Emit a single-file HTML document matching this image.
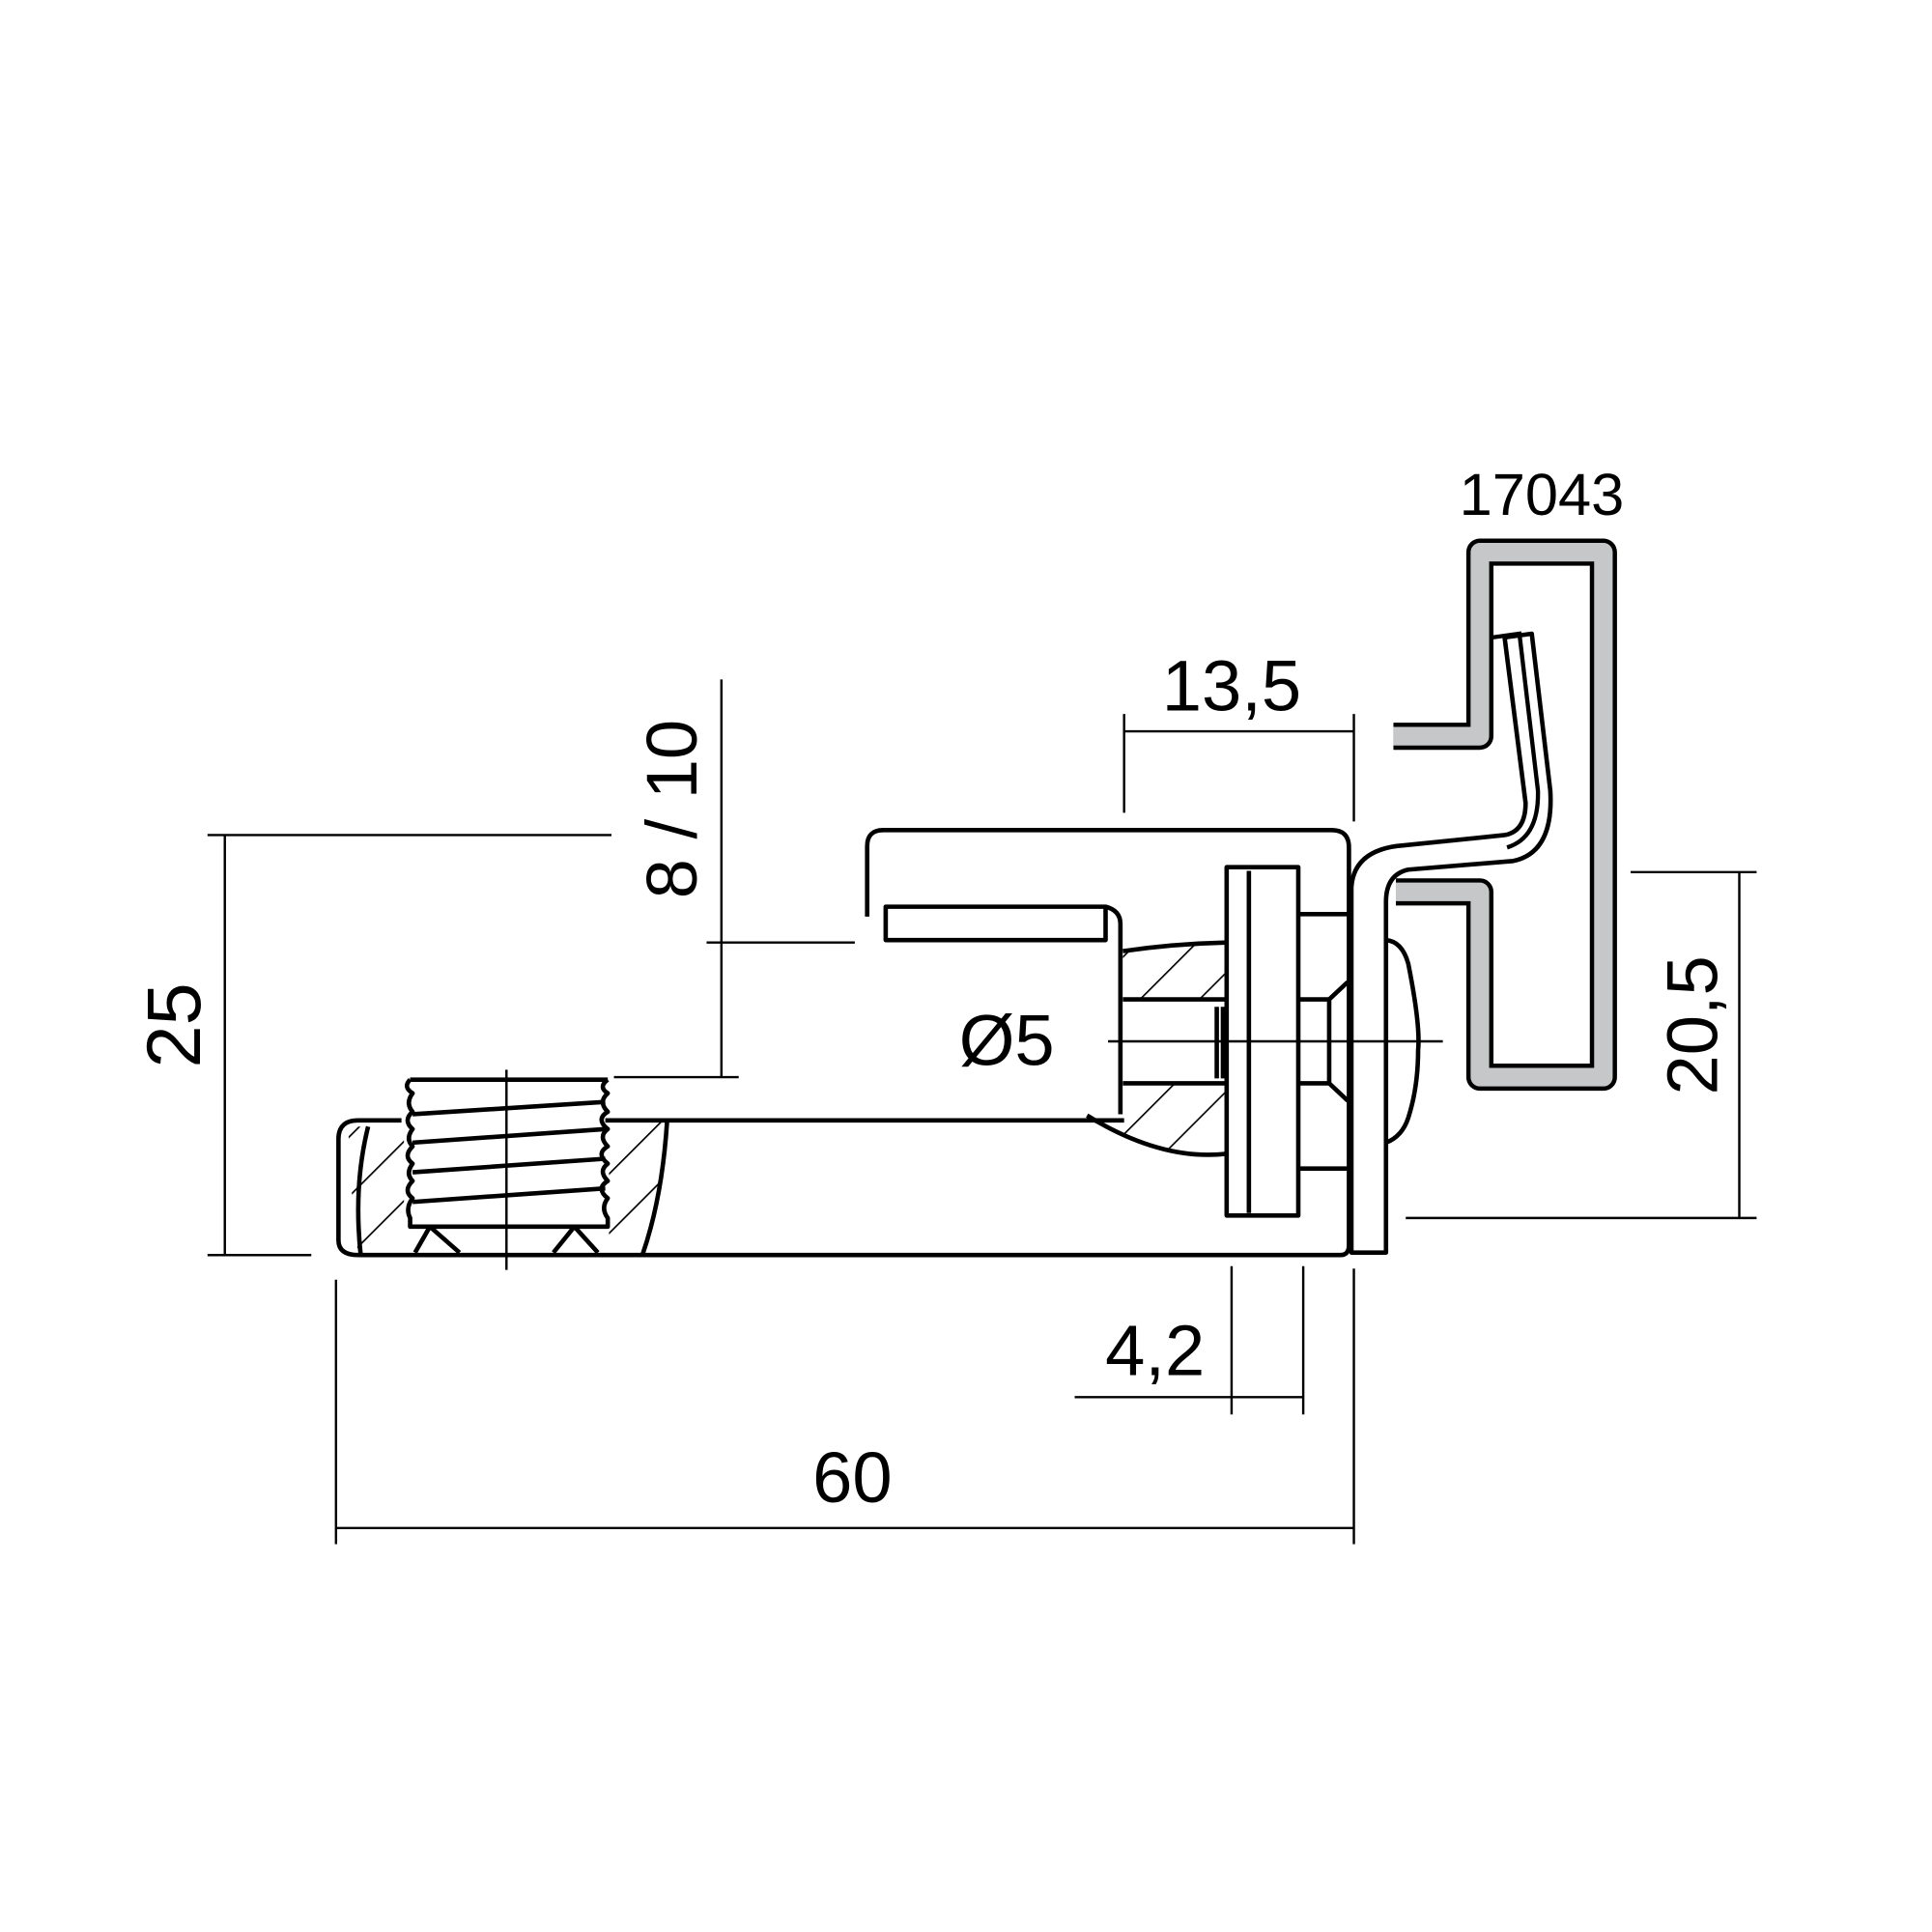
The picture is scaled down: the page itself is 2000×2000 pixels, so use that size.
<!DOCTYPE html>
<html><head><meta charset="utf-8"><style>
html,body{margin:0;padding:0;background:#fff}
svg{display:block}
text{font-family:"Liberation Sans",sans-serif;fill:#000}
</style></head><body>
<svg width="2000" height="2000" viewBox="0 0 1564 1564" xmlns="http://www.w3.org/2000/svg">
<defs>
<pattern id="h" patternUnits="userSpaceOnUse" width="34" height="34" patternTransform="rotate(45)">
<line x1="0" y1="0" x2="0" y2="34" stroke="#000" stroke-width="2.6"/>
</pattern>
</defs>
<g fill="none" stroke="#000" stroke-width="1.9">
<line x1="182" y1="676" x2="182" y2="1016"/>
<line x1="168" y1="676" x2="495" y2="676"/>
<line x1="168" y1="1016" x2="252" y2="1016"/>
<line x1="584" y1="550" x2="584" y2="872"/>
<line x1="572" y1="763" x2="692" y2="763"/>
<line x1="497" y1="872" x2="598" y2="872"/>
<line x1="910" y1="592" x2="1096" y2="592"/>
<line x1="910" y1="578" x2="910" y2="658"/>
<line x1="1096" y1="578" x2="1096" y2="665"/>
<line x1="1408" y1="706" x2="1408" y2="986"/>
<line x1="1320" y1="706" x2="1422" y2="706"/>
<line x1="1138" y1="986" x2="1422" y2="986"/>
<line x1="997" y1="1025" x2="997" y2="1145"/>
<line x1="1055" y1="1025" x2="1055" y2="1145"/>
<line x1="870" y1="1131" x2="1055" y2="1131"/>
<line x1="272" y1="1237" x2="1096" y2="1237"/>
<line x1="272" y1="1036" x2="272" y2="1250"/>
<line x1="1096" y1="1027" x2="1096" y2="1250"/>
<line x1="897" y1="843" x2="1168" y2="843"/>
<line x1="410" y1="866" x2="410" y2="1028"/>
</g>
<path d="M909 770 Q950 764 993 763 L993 809 L909 809 Z" fill="url(#h)"/>
<path d="M880 903 L909 902 L909 877 L993 877 L993 934 Q940 940 880 903 Z" fill="url(#h)"/>
<path d="M282 912 L327 912 L327 1016 L290 1016 Q283 960 282 912 Z" fill="url(#h)"/>
<path d="M493 912 L540 908 Q535 970 520 1016 L493 1016 Z" fill="url(#h)"/>
<g fill="none" stroke="#000" stroke-width="3.6" stroke-linejoin="round">
<path d="M490 907 L910 907"/>
<path d="M325 907 L290 907 Q274 907 274 922 L274 1004 Q274 1016 290 1016 L1085 1016 Q1092 1016 1092 1008"/>
<path d="M298 912 Q286 960 292 1016"/>
<path d="M540 908 Q536 970 520 1016"/>
<path d="M332 874 L492 874"/>
<path d="M332 874 Q326 880 334 885 Q328 893 334 900 Q326 907 334 914 Q328 922 334 928 Q326 936 334 942 Q328 950 334 956 Q326 964 334 970 Q328 978 332 986 L332 993 L492 993 L492 986 Q486 978 492 970 Q482 962 492 956 Q484 948 492 942 Q482 934 492 928 Q484 920 492 914 Q482 906 492 900 Q484 892 492 885 Q484 880 492 874"/>
<path d="M334 902 L490 892 M334 925 L490 914 M334 949 L490 938 M334 973 L490 962"/>
<path d="M348 993 L336 1014 M348 993 L372 1014 M465 993 L448 1014 M465 993 L484 1014"/>
<path d="M702 742 L702 685 Q702 672 715 672 L1078 672 Q1092 672 1092 686 L1092 1008"/>
<rect x="717" y="734" width="178" height="27"/>
<path d="M895 734 Q907 737 907 748 L907 902"/>
<path d="M909 770 Q950 764 993 763"/>
<path d="M909 809 L993 809 M909 877 L993 877"/>
<path d="M880 903 Q940 940 993 934"/>
<path d="M985 815 L985 873 M990 815 L990 873"/>
<rect x="993" y="702" width="58" height="282"/>
<line x1="1011" y1="705" x2="1011" y2="982"/>
<path d="M1051 740 L1091 740 M1051 946 L1091 946 M1051 809 L1076 809 L1091 795 M1051 877 L1076 877 L1091 891 M1076 809 L1076 877"/>
<path d="M1122 761 Q1135 762 1140 780 Q1150 830 1148 850 Q1148 880 1140 905 Q1135 920 1122 925"/>
<path d="M1094 1014 L1094 718 Q1096 690 1130 685 L1218 676 Q1235 673 1235 650 L1218 516 L1240 513 L1255 640 Q1258 690 1225 697 L1140 704 Q1122 708 1122 730 L1122 1014 Z"/>
</g>
<path d="M1128 596 L1198 596 L1198 447 L1298 447 L1298 872 L1198 872 L1198 722 L1130 722" fill="none" stroke="#000" stroke-width="22" stroke-linejoin="round"/>
<path d="M1128 596 L1198 596 L1198 447 L1298 447 L1298 872 L1198 872 L1198 722 L1130 722" fill="none" stroke="#c6c7c9" stroke-width="15" stroke-linejoin="round"/>
<path d="M1208 516 L1230 513 L1245 640 Q1246 678 1220 686" fill="none" stroke="#000" stroke-width="3.4"/>
<text x="1248" y="417" font-size="48" text-anchor="middle">17043</text>
<text x="997" y="575" font-size="58" text-anchor="middle">13,5</text>
<text x="815" y="862" font-size="58" text-anchor="middle">Ø5</text>
<text x="935" y="1113" font-size="58" text-anchor="middle">4,2</text>
<text x="690" y="1216" font-size="58" text-anchor="middle">60</text>
<text transform="translate(162 830) rotate(-90)" font-size="62" text-anchor="middle">25</text>
<text transform="translate(564 655) rotate(-90)" font-size="58" text-anchor="middle">8 / 10</text>
<text transform="translate(1390 830) rotate(-90)" font-size="58" text-anchor="middle">20,5</text>
</svg>
</body></html>
